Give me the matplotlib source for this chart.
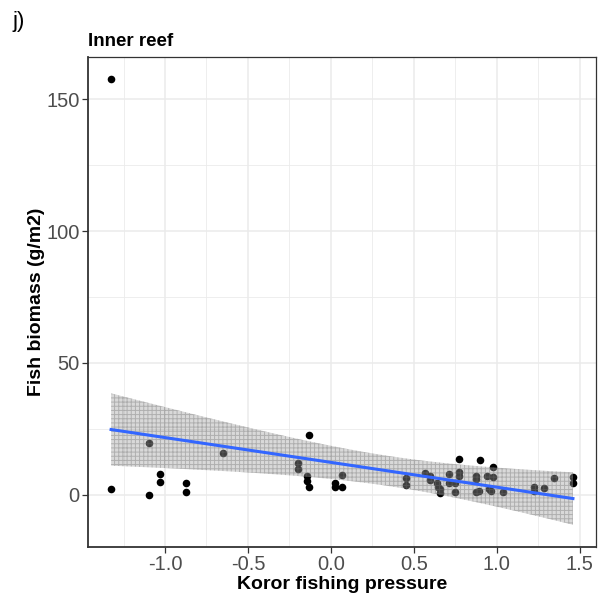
import numpy as np
import matplotlib.pyplot as plt

plt.rcParams['font.family'] = ['Liberation Sans', 'DejaVu Sans']
plt.rcParams['hatch.linewidth'] = 0.7

# Koror fishing pressure vs fish biomass, inner reef
pressure = [-1.325, -1.325, -1.098, -1.098, -1.032, -1.032, -0.875, -0.875,
            -0.649, -0.195, -0.195, -0.133, -0.145, -0.145, -0.133,
            0.028, 0.028, 0.068, 0.068,
            0.456, 0.456, 0.568, 0.600, 0.600, 0.643, 0.647, 0.661, 0.661,
            0.711, 0.711, 0.747, 0.747, 0.773, 0.773, 0.773,
            0.873, 0.873, 0.873, 0.892, 0.902, 0.944, 0.952, 0.968,
            0.978, 0.978, 1.036, 1.223, 1.223, 1.287, 1.343, 1.460, 1.460]
biomass = [157.5, 2.2, 19.7, 0.1, 8.1, 5.0, 4.7, 1.0,
           15.8, 12.2, 9.7, 22.8, 7.2, 5.3, 3.1,
           4.4, 2.9, 7.6, 3.1,
           6.6, 3.8, 8.2, 7.2, 5.6, 4.7, 2.9, 0.7, 2.2,
           8.1, 4.4, 4.7, 1.0, 13.8, 8.8, 7.2,
           7.2, 6.0, 1.0, 1.6, 13.3, 7.2, 2.1, 1.6,
           10.7, 6.8, 1.0, 2.9, 1.6, 2.6, 6.6, 6.8, 4.7]

xticks = [-1.0, -0.5, 0.0, 0.5, 1.0, 1.5]
yticks = [0, 50, 100, 150]

x = np.array(pressure)
y = np.array(biomass)

# linear fit with 95% confidence band (like geom_smooth(method = "lm"))
n = len(x)
slope, icpt = np.polyfit(x, y, 1)
resid = y - (icpt + slope * x)
df = n - 2
s = np.sqrt(np.sum(resid ** 2) / df)
z = 1.959964
tcrit = z + (z**3 + z) / (4 * df) + (5 * z**5 + 16 * z**3 + 3 * z) / (96 * df**2)
xs = np.linspace(x.min(), x.max(), 80)
fit = icpt + slope * xs
se = s * np.sqrt(1 / n + (xs - x.mean()) ** 2 / np.sum((x - x.mean()) ** 2))
lo = fit - tcrit * se
hi = fit + tcrit * se

fig = plt.figure(figsize=(6.09, 6.07), dpi=100)
ax = fig.add_axes([0.1445, 0.0988, 0.8342, 0.8073])

ax.scatter(x, y, s=30, color='black', zorder=3, linewidths=0)
ax.fill_between(xs, lo, hi, facecolor='#a0a0a0', edgecolor='#707070',
                hatch='++++', linewidth=0, alpha=0.4, zorder=4)
ax.plot(xs, fit, color='#3366FF', lw=2.2, zorder=5)

xr = x.max() - x.min()
ax.set_xlim(x.min() - 0.05 * xr, x.max() + 0.05 * xr)
ylo = min(lo.min(), y.min())
yhi = max(hi.max(), y.max())
ax.set_ylim(ylo - 0.05 * (yhi - ylo), yhi + 0.05 * (yhi - ylo))

ax.set_xticks(xticks)
ax.set_xticklabels(['%.1f' % v for v in xticks])
ax.set_yticks(yticks)
ax.set_xticks(np.arange(-1.25, 1.6, 0.5), minor=True)
ax.set_yticks([25, 75, 125], minor=True)
ax.grid(which='major', color='#ebebeb', lw=1.1)
ax.grid(which='minor', color='#ebebeb', lw=0.6)
ax.set_axisbelow(True)

ax.tick_params(which='major', labelsize=14.5, labelcolor='#4d4d4d', color='#333333',
               length=4, width=0.9, pad=2)
ax.tick_params(which='minor', length=0)
for sp in ax.spines.values():
    sp.set_color('#333333')
    sp.set_linewidth(0.9)
ax.spines['left'].set_linewidth(1.3)
ax.spines['bottom'].set_linewidth(1.3)

ax.set_xlabel('Koror fishing pressure', fontsize=14, fontweight='bold', labelpad=1)
ax.set_ylabel('Fish biomass (g/m2)', fontsize=14, fontweight='bold', labelpad=1)
ax.set_title('Inner reef', fontsize=13.5, fontweight='bold', loc='left', pad=8)
fig.text(0.02, 0.965, 'j)', fontsize=16, va='center', ha='left')

fig.savefig('out.png', dpi=100)
